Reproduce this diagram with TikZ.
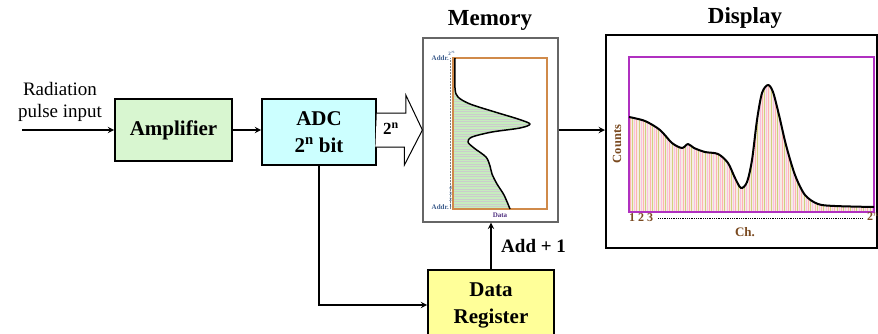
\documentclass[tikz,border=0pt]{standalone}
\usepackage{fontspec}
\setmainfont{Liberation Serif}
\usetikzlibrary{calc,arrows}
\usepackage{xcolor}
\definecolor{ampgreen}{HTML}{D8F6D0}
\definecolor{adccyan}{HTML}{CCFFFF}
\definecolor{regyellow}{HTML}{FFFF99}
\definecolor{memorange}{HTML}{D08A4A}
\definecolor{memgreen}{HTML}{C6EDBE}
\definecolor{dispmag}{HTML}{B030C0}
\definecolor{specfill}{HTML}{F6ECE4}
\definecolor{labbrown}{HTML}{7A4A20}
\definecolor{addrblue}{HTML}{3A5A8A}
\definecolor{datapurple}{HTML}{503080}

\tikzset{
  blk/.style={draw, line width=1.6pt, align=center, inner sep=0pt,
    font=\fontsize{21}{25}\selectfont\bfseries},
  flow/.style={-stealth, line width=1.8pt},
  ttl/.style={font=\fontsize{23}{26}\selectfont\bfseries},
  tiny/.style={inner sep=0pt, font=\fontsize{7}{7}\selectfont\bfseries},
  axlab/.style={inner sep=0pt, text=labbrown, font=\fontsize{12}{12}\selectfont\bfseries},
}

\begin{document}
\begin{tikzpicture}[x=1pt, y=-1pt]
  \useasboundingbox (0,0) rectangle (878,333);
  % blocks
  \node[blk, fill=ampgreen, minimum width=117pt, minimum height=62pt] (amp) at (173.5,130) {Amplifier};
  \node[blk, fill=adccyan, minimum width=114pt, minimum height=66pt] (adc) at (319,132) {ADC\\[2pt]2$^{\mathbf{n}}$ bit};
  \node[blk, fill=regyellow, minimum width=126pt, minimum height=70pt] (reg) at (491,305) {Data\\[2pt]Register};
  \node[draw=gray!80!black, line width=1.2pt, minimum width=135pt, minimum height=184pt, inner sep=0pt] (mem) at (490.5,130) {};
  \node[draw, line width=2pt, minimum width=271pt, minimum height=213pt, inner sep=0pt] (disp) at (741.5,141.5) {};
  \node[ttl] (memtitle) at (490,20) {Memory};
  \node[ttl] (disptitle) at (745,18) {Display};
  \node[align=center, font=\fontsize{19}{22}\selectfont] (pulse) at (60,102) {Radiation\\pulse input};
  \coordinate (in) at (22,130);

  % connectors
  \draw[flow] (in) -- (amp.west);
  \draw[flow] (amp.east) -- (amp.east -| adc.west);
  \draw[flow] (adc.south) |- (reg.west);
  \draw[flow] (reg.north) -- (reg.north |- mem.south)
    node[midway, right=6pt, font=\fontsize{19}{21}\selectfont\bfseries] (add) {Add + 1};
  \draw[flow] (mem.east) -- (mem.east -| disp.west);
  \draw[line width=1pt, fill=white] (adc.east |- mem.west) ++(0,-17) -- ++(29,0) -- ++(0,-18)
    -- (mem.west) -- ++(-18,35) -- ++(0,-18) -- ++(-29,0);
  \node[font=\fontsize{17}{18}\selectfont\bfseries] (width) at (391,129) {2$^{\mathbf{n}}$};

  % memory contents
  \def\memcurve{(455,58) (455,88) (458,97) (470,104) (495,112) (518,119) (530,124) (520,128)
    (492,132) (472,137) (468,142) (474,148) (486,157) (490,166) (492,174) (497,184) (504,195) (510,209)}
  \begin{scope}
    \clip (453,58) -- plot[smooth] coordinates {\memcurve} -- (453,209) -- cycle;
    \fill[memgreen] (453,58) rectangle (547,209);
    \foreach \y in {59,61.5,...,209}
      \draw[gray!40, line width=0.5pt] (453,\y) -- (547,\y);
  \end{scope}
  \draw[memorange, line width=1.2pt] (453,58) rectangle (547,209);
  \draw[line width=1.5pt, line join=round] plot[smooth] coordinates {\memcurve};
  \draw[gray, densely dotted, line width=0.5pt] (450.5,58) -- (450.5,209);
  \node[tiny, text=addrblue, anchor=east] (addrtop) at (449,58) {Addr.};
  \node[tiny, font=\fontsize{5}{5}\selectfont\bfseries, text=addrblue] (addrn) at (452,53) {2$^n$};
  \node[tiny, text=addrblue, anchor=east] (addrbot) at (449,207) {Addr.};
  \foreach \n/\y in {1/206,2/200,3/194,4/188}
    \node[tiny, font=\fontsize{5}{5}\selectfont\bfseries, text=addrblue] (addr\n) at (450.5,\y) {\n};
  \node[tiny, text=datapurple] (datalab) at (500,215) {Data};

  % display contents
  \def\speccurve{(629,117) (645,121) (660,130) (672,143) (682,148) (688,144) (694,148) (705,152)
    (718,154) (728,163) (735,178) (741,188) (747,182) (752,160) (757,120) (762,93) (768,85)
    (773,92) (779,115) (786,145) (795,175) (805,195) (818,204) (835,206) (874,207)}
  \begin{scope}
    \clip (629,212) -- plot[smooth] coordinates {\speccurve} -- (874,212) -- cycle;
    \fill[specfill] (629,57) rectangle (874,212);
    \foreach \x in {630,636.6,...,874} {
      \draw[red!30, line width=0.5pt] (\x,57) -- (\x,212);
      \draw[olive!40, line width=0.5pt] (\x+2.2,57) -- (\x+2.2,212);
      \draw[magenta!25, line width=0.5pt] (\x+4.4,57) -- (\x+4.4,212);
    }
  \end{scope}
  \draw[dispmag, line width=1.2pt] (629,57) rectangle (874,212);
  \draw[line width=2pt, line join=round] plot[smooth] coordinates {\speccurve};
  \node[axlab] (ch123) at (641,218) {1 2 3};
  \draw[densely dotted, line width=0.8pt] (ch123.east) ++(5,0) -- (862,218);
  \node[axlab, anchor=west] (chn) at (867,217) {2$^n$};
  \node[axlab, font=\fontsize{13}{13}\selectfont\bfseries] (chlab) at (745,232) {Ch.};
  \node[axlab, font=\fontsize{12.5}{13}\selectfont\bfseries, rotate=90] (countlab) at (617,144) {Counts};
\end{tikzpicture}
\end{document}
